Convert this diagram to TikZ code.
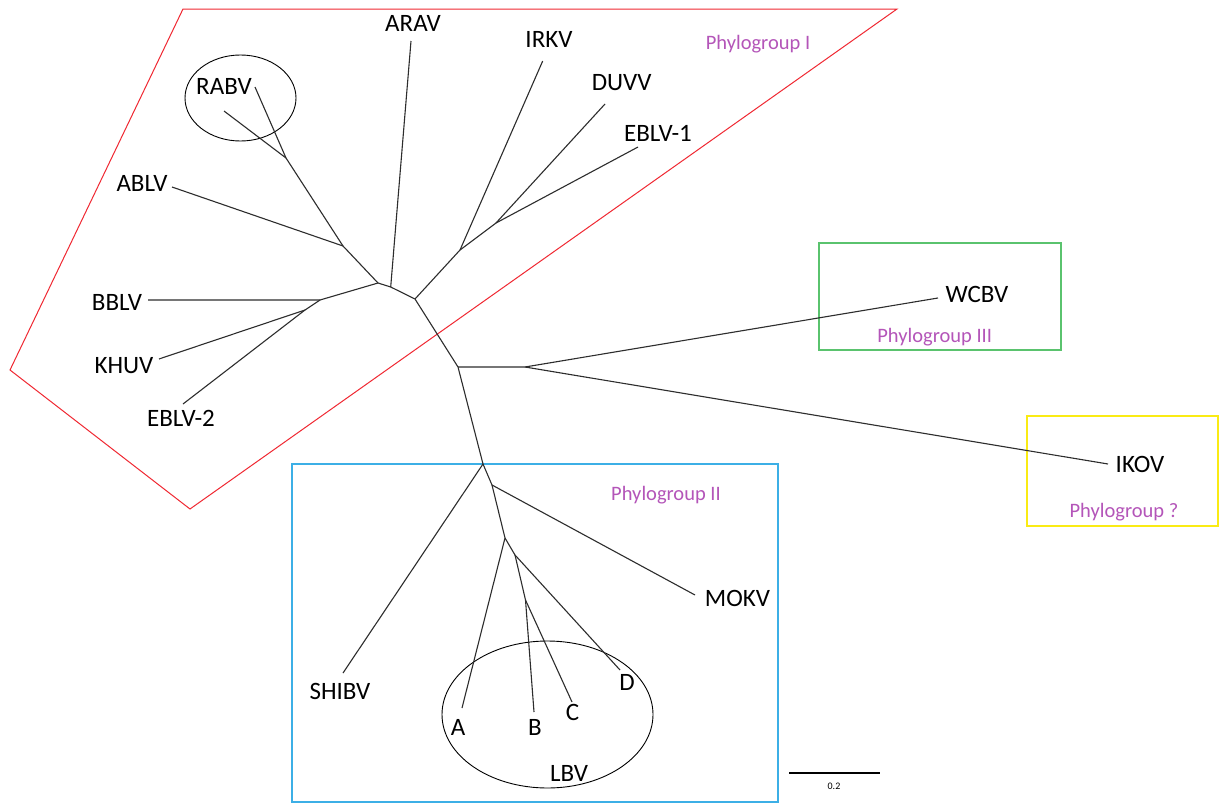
\documentclass[tikz,border=0pt]{standalone}
\usepackage{fontspec}
\setmainfont{Carlito}
\definecolor{grp}{RGB}{180,85,185}
\definecolor{redl}{RGB}{240,40,50}
\definecolor{greenl}{RGB}{90,195,110}
\definecolor{bluel}{RGB}{60,175,230}
\definecolor{yellowl}{RGB}{250,235,20}
\definecolor{branch}{RGB}{45,45,45}
\begin{document}
\begin{tikzpicture}[x=1pt,y=-1pt,
  lbl/.style={inner sep=0pt,text height=16pt,text depth=0pt,font=\fontsize{25}{25}\selectfont,text=black},
  grplbl/.style={inner sep=0pt,text height=13.2pt,text depth=0pt,font=\fontsize{20.5}{20.5}\selectfont,text=grp},
  br/.style={draw=branch,line width=1.1pt},
  ring/.style={draw=black,line width=0.9pt}]
\useasboundingbox (0,0) rectangle (1221,803);
\fill[white] (0,0) rectangle (1221,803);
% group outlines
\draw[redl,line width=1pt,line join=miter] (183,9) -- (897,9) -- (190,509) -- (10,370) -- cycle;
\draw[greenl,line width=1.4pt] (819,243) rectangle (1061,350);
\draw[yellowl,line width=1.4pt] (1027,416) rectangle (1218,526);
\draw[bluel,line width=1.6pt] (292,464) rectangle (778,802);
\draw[ring] (240.5,98) ellipse [x radius=55.5,y radius=43];
\draw[ring] (547.5,714.5) ellipse [x radius=105.5,y radius=73.5];
% internal nodes
\coordinate (r) at (378,283);
\coordinate (na) at (390.7,287);
\coordinate (nb) at (415,299);
\coordinate (ni) at (460,250);
\coordinate (nd) at (496,223);
\coordinate (nc) at (458,367);
\coordinate (nw) at (525,367);
\coordinate (ns) at (483,464);
\coordinate (nm) at (492,485);
\coordinate (nl) at (505,538);
\coordinate (nq) at (515,555);
\coordinate (nbc) at (525.5,600);
\coordinate (n1) at (320,300);
\coordinate (n2) at (305,310);
\coordinate (nab) at (343,246);
\coordinate (nr) at (286,158);
% leaf ends
\coordinate (eARAV) at (411,41);
\coordinate (eIRKV) at (542.7,61);
\coordinate (eDUVV) at (605,104);
\coordinate (eEBLV1) at (638,147);
\coordinate (eWCBV) at (938,298);
\coordinate (eIKOV) at (1108,464);
\coordinate (eSHIBV) at (343,673);
\coordinate (eMOKV) at (695,595);
\coordinate (eA) at (462,708);
\coordinate (eB) at (534,712);
\coordinate (eC) at (572,702);
\coordinate (eD) at (620,670);
\coordinate (eBBLV) at (148,300);
\coordinate (eKHUV) at (159,359);
\coordinate (eEBLV2) at (183,404);
\coordinate (eABLV) at (172,187);
\coordinate (eR1) at (255,87);
\coordinate (eR2) at (224,111);
% branches
\draw[br] (r) -- (na) -- (nb) -- (nc) -- (ns);
\draw[br] (na) -- (eARAV);
\draw[br] (nb) -- (ni) -- (nd) -- (eEBLV1);
\draw[br] (ni) -- (eIRKV);
\draw[br] (nd) -- (eDUVV);
\draw[br] (nc) -- (nw) -- (eWCBV);
\draw[br] (nw) -- (eIKOV);
\draw[br] (ns) -- (eSHIBV);
\draw[br] (ns) -- (nm) -- (eMOKV);
\draw[br] (nm) -- (nl) -- (eA);
\draw[br] (nl) -- (nq) -- (eD);
\draw[br] (nq) -- (nbc) -- (eB);
\draw[br] (nbc) -- (eC);
\draw[br] (r) -- (n1) -- (eBBLV);
\draw[br] (n1) -- (n2) -- (eKHUV);
\draw[br] (n2) -- (eEBLV2);
\draw[br] (r) -- (nab) -- (eABLV);
\draw[br] (nab) -- (nr) -- (eR1);
\draw[br] (nr) -- (eR2);
% labels
\node[lbl] (lARAV) at (413,23.5) {ARAV};
\node[lbl] (lIRKV) at (549,39) {IRKV};
\node[lbl] (lDUVV) at (621.7,82) {DUVV};
\node[lbl] (lEBLV1) at (658,133) {EBLV-1};
\node[lbl] (lRABV) at (224,86) {RABV};
\node[lbl] (lABLV) at (142,183) {ABLV};
\node[lbl] (lBBLV) at (117,302) {BBLV};
\node[lbl] (lKHUV) at (124,365) {KHUV};
\node[lbl] (lEBLV2) at (181,418) {EBLV-2};
\node[lbl] (lWCBV) at (977,294) {WCBV};
\node[lbl] (lIKOV) at (1140,464) {IKOV};
\node[lbl] (lSHIBV) at (340,691) {SHIBV};
\node[lbl] (lMOKV) at (737.5,598) {MOKV};
\node[lbl] (lA) at (458,727) {A};
\node[lbl] (lB) at (535,727) {B};
\node[lbl] (lC) at (572.5,712) {C};
\node[lbl] (lD) at (627,682) {D};
\node[lbl] (lLBV) at (569,773) {LBV};
\node[grplbl] (gI) at (758,43) {Phylogroup I};
\node[grplbl] (gII) at (666,494) {Phylogroup II};
\node[grplbl] (gIII) at (934.7,336) {Phylogroup III};
\node[grplbl] (gQ) at (1124,510.5) {Phylogroup ?};
% scale bar
\coordinate (s1) at (789,773);
\coordinate (s2) at (880,773);
\draw[black,line width=1.2pt] (s1) -- (s2);
\node[inner sep=0pt,font=\fontsize{10}{10}\selectfont] (sl) at (834,786) {0.2};
\end{tikzpicture}
\end{document}
